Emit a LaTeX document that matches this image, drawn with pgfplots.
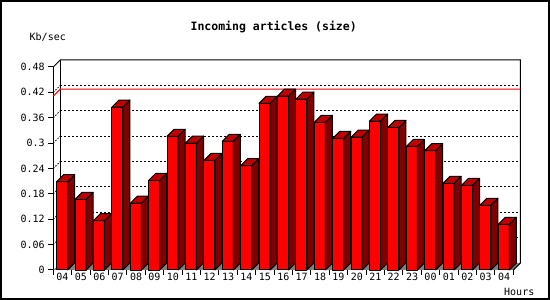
\documentclass[border=0pt]{standalone}
\usepackage{pgfplots}
\pgfplotsset{compat=1.18}
\usepackage{fontspec}
\setmainfont{DejaVu Sans Mono}
\definecolor{sidered}{RGB}{128,0,0}
\definecolor{topred}{RGB}{192,0,0}
\definecolor{floorgray}{RGB}{128,128,128}
\pgfdeclareplotmark{emptymark}{}
\begin{document}
\begin{tikzpicture}[font=\fontsize{10}{12}\selectfont]
\begin{axis}[
  at={(0pt,0pt)}, anchor=south west,
  x=18.4pt, y=423pt,
  xmin=-0.5, xmax=24.5, ymin=0, ymax=0.48,
  clip=false,
  axis x line*=bottom, axis y line*=left,
  axis line style={-, line width=1pt, black},
  xtick={-0.5,0.5,...,24.5},
  xticklabels={},
  extra x ticks={0,1,...,24},
  extra x tick labels={04,05,06,07,08,09,10,11,12,13,14,15,16,17,18,19,20,21,22,23,00,01,02,03,04},
  extra x tick style={major tick length=0pt},
  ytick={0,0.06,0.12,0.18,0.24,0.3,0.36,0.42,0.48},
  yticklabels={0,0.06,0.12,0.18,0.24,0.3,0.36,0.42,0.48},
  tick align=outside,
  major tick length=5pt,
  tick style={line width=1pt, black},
  tick label style={font=\fontsize{10}{12}\selectfont},
]
% floor
\fill[floorgray] (axis cs:-0.5,0) -- (axis cs:24.5,0) -- ([shift={(7pt,7pt)}]axis cs:24.5,0) -- ([shift={(7pt,7pt)}]axis cs:-0.5,0) -- cycle;
% back grid
\pgfplotsinvokeforeach{0.06,0.12,0.18,0.24,0.3,0.36,0.42}{
  \draw[line width=1pt, dash pattern=on 2pt off 2pt] ([shift={(7pt,7pt)}]axis cs:-0.5,#1) -- ([shift={(7pt,7pt)}]axis cs:24.5,#1);
  \draw[line width=0.8pt, dash pattern=on 1.5pt off 1.5pt] (axis cs:-0.5,#1) -- ([shift={(7pt,7pt)}]axis cs:-0.5,#1);
}
% back walls
\draw[line width=1pt] (axis cs:-0.5,0.48) -- ([shift={(7pt,7pt)}]axis cs:-0.5,0.48) -- ([shift={(7pt,7pt)}]axis cs:24.5,0.48) -- ([shift={(7pt,7pt)}]axis cs:24.5,0) -- (axis cs:24.5,0);
\draw[line width=1pt] ([shift={(7pt,7pt)}]axis cs:-0.5,0) -- ([shift={(7pt,7pt)}]axis cs:-0.5,0.48);
% max line
\draw[red, line width=1pt] (axis cs:-0.5,0.411) -- ([shift={(7pt,7pt)}]axis cs:-0.5,0.411) -- ([shift={(7pt,7pt)}]axis cs:24.5,0.411);
% bars
\addplot[scatter, only marks, mark=emptymark,
  visualization depends on={y \as \barval},
  scatter/@pre marker code/.code={%
    \pgfmathsetmacro\h{\barval*423}%
    \pgfmathsetmacro\hb{7-\h}%
    \filldraw[fill=red, draw=black, line width=1pt, line join=round] (-5.8pt,0pt) rectangle (5.2pt,-\h pt);
    \filldraw[fill=sidered, draw=black, line width=1pt, line join=round] (5.2pt,0pt) -- (12.2pt,7pt) -- (12.2pt,\hb pt) -- (5.2pt,-\h pt) -- cycle;
    \filldraw[fill=topred, draw=black, line width=1pt, line join=round] (-5.8pt,0pt) -- (5.2pt,0pt) -- (12.2pt,7pt) -- (1.2pt,7pt) -- cycle;
  },
  scatter/@post marker code/.code={},
] coordinates {
(0,0.209) (1,0.167) (2,0.117) (3,0.385) (4,0.158) (5,0.212) (6,0.316) (7,0.300)
(8,0.259) (9,0.304) (10,0.247) (11,0.394) (12,0.411) (13,0.404) (14,0.349) (15,0.311)
(16,0.314) (17,0.352) (18,0.337) (19,0.292) (20,0.282) (21,0.205) (22,0.200) (23,0.153) (24,0.108)
};
\end{axis}
\node[anchor=base, font=\fontsize{11.5}{14}\selectfont\bfseries, inner sep=0pt] at (220.4pt,239.3pt) {Incoming articles (size)};
\node[anchor=base west, inner sep=0pt] at (-23.8pt,229pt) {Kb/sec};
\node[anchor=base east, inner sep=0pt] at (481.2pt,-25.7pt) {Hours};
\draw[line width=2pt] (-52.3pt,-29pt) rectangle (495.7pt,269pt);
\pgfresetboundingbox
\useasboundingbox (-53.3pt,-30pt) rectangle (496.7pt,270pt);
\end{tikzpicture}
\end{document}
